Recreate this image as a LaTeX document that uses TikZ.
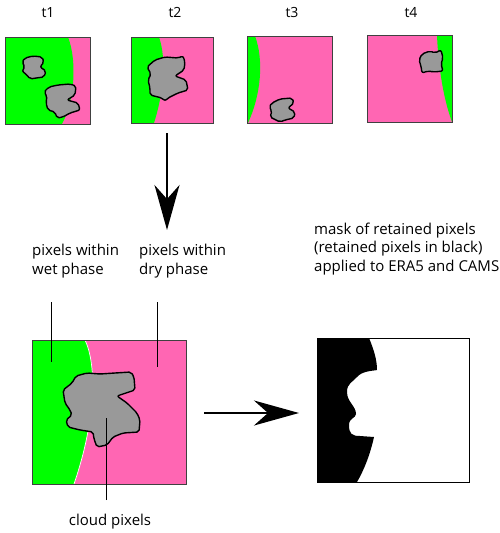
\documentclass[tikz,border=0pt]{standalone}
\usepackage{fontspec}
\setmainfont{Open Sans}
\usetikzlibrary{arrows.meta}
\definecolor{wet}{HTML}{00FF00}
\definecolor{dry}{HTML}{FF66B3}
\definecolor{cloudc}{HTML}{999999}
\definecolor{framec}{HTML}{404040}
\begin{document}
\begin{tikzpicture}[x=1pt,y=-1pt,
  frame/.style={draw=framec, line width=1pt},
  cloudshape/.style={fill=cloudc, draw=black, line width=1.4pt, rounded corners=2pt, line join=round},
  lbl/.style={font=\fontsize{15}{18.5}\selectfont, inner sep=0pt, align=left, anchor=base west},
  ttl/.style={font=\fontsize{14}{17}\selectfont, inner sep=0pt, anchor=base},
  bigarrow/.style={line width=2pt, -{Stealth[length=45pt,width=25pt,inset=14pt]}},
  leader/.style={draw=black, line width=0.8pt}]
\useasboundingbox (0,0) rectangle (500,533);

% titles
\node[ttl] (t1) at (48,17) {t1};
\node[ttl] (t2) at (175,17) {t2};
\node[ttl] (t3) at (292,17) {t3};
\node[ttl] (t4) at (411,17) {t4};

% panel t1
\fill[dry] (5,37) rectangle (90,124);
\fill[wet] (5,37) -- (68,37) .. controls (77,60) and (75,100) .. (62,124) -- (5,124) -- cycle;
\draw[cloudshape] (25,58) -- (33,56) -- (42,57) -- (44,62) -- (40,67) -- (46,71) -- (44,77) -- (36,78) -- (30,79) -- (27,75) -- (22,71) -- (25,67) -- (22,62) -- cycle;
\draw[cloudshape] (49,87) -- (58,85) -- (70,84) -- (76,86) -- (75,95) -- (67,100) -- (78,103) -- (80,110) -- (70,113) -- (63,117) -- (57,118) -- (55,112) -- (48,110) -- (46,103) -- (47,96) -- (44,92) -- cycle;
\node[frame, minimum width=85pt, minimum height=87pt, inner sep=0pt] (p1) at (47.5,80.5) {};

% panel t2
\fill[dry] (131,37) rectangle (213,123);
\fill[wet] (131,37) -- (159,37) .. controls (167,60) and (163,95) .. (154,123) -- (131,123) -- cycle;
\draw[cloudshape] (155,60) -- (165,57) -- (178,58) -- (183,56) -- (185,62) -- (184,70) -- (175,76) -- (186,80) -- (188,90) -- (178,93) -- (168,98) -- (165,101) -- (162,98) -- (150,95) -- (150,88) -- (148,80) -- (151,74) -- (147,67) -- cycle;
\node[frame, minimum width=82pt, minimum height=86pt, inner sep=0pt] (p2) at (172,80) {};

% panel t3
\fill[dry] (247,36) rectangle (332,123);
\fill[wet] (247,36) -- (255,36) .. controls (264,60) and (261,95) .. (248,123) -- (247,123) -- cycle;
\draw[cloudshape] (272,103) -- (280,99) -- (292,98) -- (294,103) -- (288,108) -- (295,112) -- (294,118) -- (285,120) -- (280,122) -- (274,119) -- (270,117) -- (272,111) -- (269,107) -- cycle;
\node[frame, minimum width=85pt, minimum height=87pt, inner sep=0pt] (p3) at (289.5,79.5) {};

% panel t4
\fill[dry] (367,35) rectangle (452,122);
\fill[wet] (437,35) .. controls (438,60) and (442,95) .. (452,122) -- (452,35) -- cycle;
\draw[cloudshape] (422,54) -- (430,51) -- (435,53) -- (441,50) -- (443,58) -- (441,64) -- (443,71) -- (434,72) -- (428,71) -- (422,73) -- (421,66) -- (419,60) -- cycle;
\node[frame, minimum width=85pt, minimum height=87pt, inner sep=0pt] (p4) at (409.5,78.5) {};

% down arrow
\coordinate (d1) at (167,133);
\coordinate (d2) at (167,230);
\draw[bigarrow] (d1) -- (d2);

% big panel
\fill[dry] (32,340) rectangle (186,484);
\fill[wet] (32,340) -- (85,340) .. controls (97,365) and (96,420) .. (74,484) -- (32,484) -- cycle;
\draw[white, line width=0.7pt] (85,340) .. controls (97,365) and (96,420) .. (74,484);
\draw[cloudshape] (76,376) -- (87,373) -- (100,374) -- (115,373) -- (131,372) -- (134,377) -- (135,390) -- (117,396) -- (127,403) -- (137,413) -- (140,420) -- (139,432) -- (123,433) -- (113,437) -- (107,445) -- (97,447) -- (94,439) -- (93,432) -- (80,430) -- (68,427) -- (66,420) -- (72,415) -- (70,410) -- (65,403) -- (63,390) -- (67,387) -- (72,383) -- cycle;
\node[frame, minimum width=154pt, minimum height=144pt, inner sep=0pt] (big) at (109,412) {};

% labels
\node[lbl] (wetl) at (32,274) {pixels within\\wet phase};
\node[lbl] (dryl) at (139,274) {pixels within\\dry phase};
\node[lbl, anchor=base] (cloudl) at (110,525) {cloud pixels};
\coordinate (wetend) at (51,362);
\coordinate (dryend) at (157,367);
\coordinate (cloudend) at (106,418);
\draw[leader] (51,302) -- (wetend);
\draw[leader] (157,302) -- (dryend);
\draw[leader] (106,500) -- (cloudend);

% right arrow
\coordinate (r1) at (204,413);
\coordinate (r2) at (299,413);
\draw[bigarrow] (r1) -- (r2);

% mask panel
\fill[black] (317,338) -- (369,338) .. controls (374,350) and (377,360) .. (377,370)
  .. controls (372,371) and (362,371) .. (357,377)
  .. controls (353,382) and (347,383) .. (347,392)
  .. controls (347,402) and (356,406) .. (356,414)
  .. controls (356,418) and (349,418) .. (349,425)
  .. controls (349,434) and (352,436) .. (360,436)
  -- (374,437) .. controls (370,455) and (364,470) .. (357,482) -- (317,482) -- cycle;
\node[draw=black, line width=1pt, minimum width=152pt, minimum height=144pt, inner sep=0pt] (mask) at (393,410) {};
\node[lbl] (maskl) at (314,271) {mask of retained pixels\\(retained pixels in black)\\applied to ERA5 and CAMS};
\end{tikzpicture}
\end{document}
